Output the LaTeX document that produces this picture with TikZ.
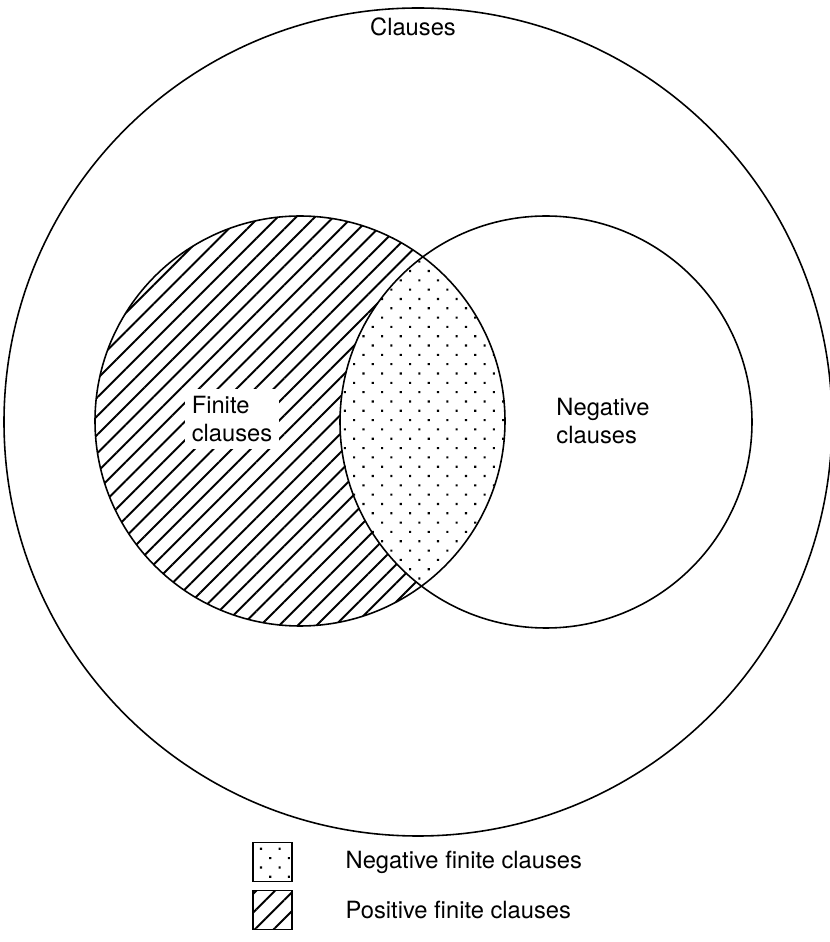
\documentclass[tikz,border=0pt]{standalone}
\usepackage{fontspec}
\setmainfont{TeX Gyre Heros}
\usetikzlibrary{patterns.meta, positioning}
\tikzset{
  ring/.style={draw, line width=0.9pt},
  hatch/.style={pattern={Lines[angle=45, distance=7.5pt, line width=1.1pt]}},
  speckle/.style={pattern={Dots[angle=45, distance=7.5pt, radius=0.85pt]}},
  lab/.style={align=left, font=\fontsize{13.5}{16}\selectfont, inner sep=0pt},
  key/.style={draw, line width=0.9pt, minimum size=7.8mm, inner sep=0pt}
}

\begin{document}
\begin{tikzpicture}
    \useasboundingbox (0,0) rectangle (16.6,18.84);
    \coordinate (all) at (8.36,10.40);
    \coordinate (fin) at (6.00,10.42);
    \coordinate (neg) at (10.92,10.40);
    % finite clauses, hatched
    \fill[white] (fin) circle[radius=4.1];
    \fill[hatch] (fin) circle[radius=4.1];
    % overlap: negative finite clauses
    \begin{scope}
      \clip (fin) circle[radius=4.1];
      \fill[white] (neg) circle[radius=4.12];
      \fill[speckle] (neg) circle[radius=4.12];
    \end{scope}
    \draw[ring] (all) circle[radius=8.28];
    \draw[ring] (fin) circle[radius=4.1];
    \draw[ring] (neg) circle[radius=4.12];
    \node[lab] (clauselab) at (8.26,18.3) {Clauses};
    \node[lab, fill=white, inner sep=1.4mm] (finlab) at (4.64,10.46) {Finite\\clauses};
    \node[lab] (neglab) at (12.06,10.42) {Negative\\clauses};
    % legend
    \node[key, speckle] (negkey) at (5.45,1.6) {};
    \node[key, hatch] (poskey) at (5.45,0.64) {};
    \node[lab, right=10.5mm of negkey] (negtxt) {Negative finite clauses};
    \node[lab, right=10.5mm of poskey] (postxt) {Positive finite clauses};
  \end{tikzpicture}
\end{document}
